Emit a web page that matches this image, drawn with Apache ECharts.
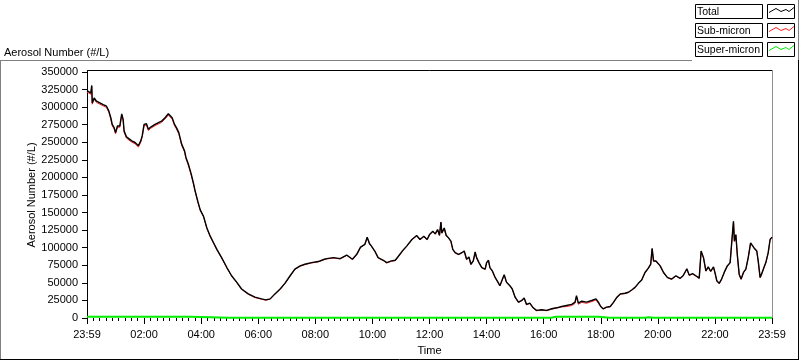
<!DOCTYPE html>
<html>
<head>
<meta charset="utf-8">
<script src="https://cdn.jsdelivr.net/npm/echarts@6/dist/echarts.min.js"></script>
<style>
    html, body { margin: 0; padding: 0; background: #fff; }
    #chart_aerosol { width: 800px; height: 361px; }
</style>
</head>
<body>
<div id="chart_aerosol"></div>
<script>
// minutes after 23:59 (start of the record)
var times = [0,4,8,10,11,15,20,27,34,41,
    46,50,53,57,60,64,69,73,76,78,
    83,87,94,101,108,113,116,120,125,129,
    134,143,150,157,164,171,175,179,184,188,
    193,199,205,208,213,219,224,227,233,238,
    245,252,259,266,273,283,294,304,315,325,
    339,353,367,376,385,395,406,416,427,437,
    448,458,472,486,499,504,518,532,546,558,
    567,575,584,589,594,598,605,612,623,630,
    640,648,655,664,672,683,693,700,708,715,
    720,727,732,737,741,744,746,751,755,760,
    765,769,774,781,788,793,798,803,807,812,
    816,819,824,830,837,840,844,847,852,858,
    863,868,872,877,882,889,894,900,907,914,
    919,924,931,938,945,956,966,977,987,998,
    1008,1019,1026,1029,1033,1040,1050,1061,1070,1075,
    1080,1085,1092,1100,1107,1114,1121,1131,1138,1145,
    1152,1159,1166,1173,1180,1185,1188,1191,1196,1205,
    1212,1220,1229,1238,1247,1253,1261,1266,1273,1280,
    1287,1291,1296,1301,1306,1311,1317,1320,1324,1329,
    1334,1341,1346,1352,1355,1359,1361,1364,1367,1371,
    1375,1380,1385,1390,1395,1399,1402,1408,1411,1415,
    1418,1423,1427,1432,1436,1440];

var totalVals = [323400,324800,320100,330900,306000,313000,308400,306000,303600,301300,
    294300,284900,275500,270800,263800,273200,273200,290500,282500,266100,
    257700,255800,252000,249700,245000,252000,259100,275500,276400,268500,
    271700,275500,277800,280200,284900,290500,291900,284900,275500,270800,
    263800,247400,238000,228500,219200,205100,191000,181600,165700,153900,
    144600,128100,116400,107000,97600,85900,71800,60100,50700,41300,
    34300,29600,27200,25800,27200,34300,41300,49300,60100,69500,
    74100,76500,78800,80300,83600,84500,85900,84500,89600,83600,
    90600,100900,104700,115000,105600,102300,95300,85900,82100,78800,
    81200,82100,88200,96200,102300,111700,117300,111700,116400,111700,
    118700,123400,119700,125800,117800,136600,121100,128100,117800,114000,
    109400,97600,92900,90600,92900,95300,83600,86800,76500,81200,
    93900,85900,78800,71800,69500,78800,82100,71800,67100,57700,
    52100,46000,53000,61500,50700,46000,41300,29600,22500,24900,
    28600,19300,21100,14500,10800,11700,10800,13100,14500,16400,
    17800,19300,22500,31900,21100,23900,22500,24900,27200,22500,
    16400,13100,15500,16400,22500,29600,34300,35200,36600,39900,
    43600,49300,54000,64800,70900,76500,99000,81200,81200,74100,
    64800,57700,55400,60100,56500,60100,70000,61000,63000,60100,
    56800,95300,85900,67100,72700,66500,72700,64800,53000,49300,
    55400,67100,74100,78800,104700,137500,109400,118700,90600,62400,
    55400,64800,69500,85900,107000,109400,100000,95300,81200,57700,
    62400,71800,78800,92900,111700,115000];

var subVals = [321600,323000,318300,329100,304200,311200,306600,304200,301800,299500,
    292500,283100,273700,269000,262000,271400,271400,288700,280700,264300,
    255900,254000,250200,247900,243200,250200,257300,273700,274600,266700,
    269900,273700,276000,278400,283100,288700,290100,283100,273700,269000,
    262000,245600,236200,226700,217400,203300,190500,181100,165200,153400,
    144100,127600,115900,106500,97100,85400,71300,59600,50200,40800,
    33800,29100,26700,25300,26700,33800,40800,48800,59600,69000,
    73600,76000,78300,79800,83100,84000,85400,84000,89100,83100,
    90100,100400,104200,114500,105100,101800,94800,85400,81600,78300,
    80700,81600,87700,95700,101800,111200,116800,111200,115900,111200,
    118200,122900,119200,125300,117300,136100,120600,127600,117300,113500,
    108900,97100,92400,90100,92400,94800,83100,86300,76000,80700,
    93400,85400,78300,71300,69000,78300,81600,71300,66600,57200,
    51600,45500,52500,61000,50200,45500,40800,29100,22000,24400,
    28100,18800,20600,14000,10300,11200,10300,12600,14000,15900,
    16200,17700,20900,30300,19500,22300,20900,23300,25600,20900,
    15900,12600,15000,15900,22000,29100,33800,34700,36100,39400,
    43100,48800,53500,64300,70400,75800,98000,80600,80700,73600,
    64300,57200,54900,59600,56000,59600,69500,60500,62500,59600,
    56300,94600,85400,66600,72200,66000,72200,64300,52500,48800,
    54900,66600,73600,78300,104200,137000,108900,118200,90100,61900,
    54900,64300,69000,85400,106500,108900,99500,94800,80700,57200,
    61900,71300,78300,92400,111200,114500];

var superTimes = [0,20,34,36,38,60,100,150,200,218,
    222,300,400,500,600,700,800,900,960,976,
    980,985,1000,1040,1075,1078,1100,1130,1132,1134,
    1160,1162,1175,1180,1183,1186,1190,1192,1200,1260,
    1292,1294,1296,1380,1440];
var superVals = [1800,1800,1800,2600,1800,1800,1800,1800,1800,1900,
    500,500,450,450,450,450,400,400,400,450,
    1100,1700,1700,1700,1700,500,450,450,1000,450,
    450,900,450,1000,1500,800,1300,500,450,400,
    400,1300,400,400,400];

var seriesNames = ['Total', 'Sub-micron', 'Super-micron'];
var seriesColors = ['#000000', '#ff2020', '#00ee00'];
var yTitle = 'Aerosol Number (#/L)';
var xTitle = 'Time';

var fontName = '"Liberation Sans", Arial, sans-serif';

function toPairs(xs, ys) {
    var arr = [];
    for (var i = 0; i < xs.length; i++) {
        arr.push([xs[i], ys[i]]);
    }
    return arr;
}

function timeLabel(v) {
    if (v === 0 || v === 1440) { return '23:59'; }
    var h = v / 60;
    return (h < 10 ? '0' + h : '' + h) + ':00';
}

/*legend boxes, drawn like the instrument panel*/
function legendGraphic() {
    var items = [];
    var zig = [[1, 5], [8, 1], [13, 4], [18, 2], [21, 4], [26, 0]];
    for (var i = 0; i < seriesNames.length; i++) {
        var top = 4.5 + i * 19;
        items.push({
            type: 'rect',
            shape: { x: 695.5, y: top, width: 67, height: 14 },
            style: { fill: '#fff', stroke: '#000', lineWidth: 1 }
        });
        items.push({
            type: 'rect',
            shape: { x: 767.5, y: top, width: 27, height: 14 },
            style: { fill: '#fff', stroke: '#000', lineWidth: 1 }
        });
        items.push({
            type: 'text',
            x: 697, y: top + 7.5,
            style: { text: seriesNames[i], font: '10.5px ' + fontName, fill: '#000', align: 'left', verticalAlign: 'middle' }
        });
        var pts = [];
        for (var j = 0; j < zig.length; j++) {
            pts.push([768 + zig[j][0], top + 3 + zig[j][1]]);
        }
        items.push({
            type: 'polyline',
            shape: { points: pts },
            style: { stroke: seriesColors[i], lineWidth: 1, fill: null }
        });
    }
    return items;
}

function frameGraphic() {
    return [
        { type: 'line', shape: { x1: 0, y1: 60.5, x2: 692, y2: 60.5 }, style: { stroke: '#808080', lineWidth: 1 } },
        { type: 'line', shape: { x1: 0.5, y1: 60, x2: 0.5, y2: 359 }, style: { stroke: '#808080', lineWidth: 1 } },
        { type: 'line', shape: { x1: 0, y1: 359.5, x2: 799, y2: 359.5 }, style: { stroke: '#000', lineWidth: 1 } },
        { type: 'line', shape: { x1: 798.5, y1: 60, x2: 798.5, y2: 360 }, style: { stroke: '#000', lineWidth: 1 } },
        { type: 'line', shape: { x1: 798.5, y1: 0, x2: 798.5, y2: 60 }, style: { stroke: '#808080', lineWidth: 1 } },
        // plot area border: black top, gray right
        { type: 'line', shape: { x1: 87, y1: 70.5, x2: 772.5, y2: 70.5 }, style: { stroke: '#000', lineWidth: 1 } },
        { type: 'line', shape: { x1: 772.5, y1: 70, x2: 772.5, y2: 322 }, style: { stroke: '#909090', lineWidth: 1 } },
        { type: 'line', shape: { x1: 87.5, y1: 70, x2: 87.5, y2: 73 }, style: { stroke: '#000', lineWidth: 1 } },
        {
            type: 'text', x: 4, y: 52.5,
            style: { text: yTitle, font: '11px ' + fontName, fill: '#000', align: 'left', verticalAlign: 'middle' }
        }
    ];
}

var chart_aerosol = null;
function initChart() {
    chart_aerosol = echarts.init(document.getElementById('chart_aerosol'), null, { renderer: 'canvas' });

    var option = {
        animation: false,
        backgroundColor: '#fff',
        grid: {
            left: 87,
            right: 28,
            top: 72,
            bottom: 40
        },
        xAxis: {
            type: 'value',
            min: 0,
            max: 1440,
            interval: 120,
            offset: 2,
            name: xTitle,
            nameLocation: 'middle',
            nameGap: 25,
            nameMoveOverlap: false,
            nameTextStyle: { color: '#000', fontSize: 11, fontFamily: fontName },
            axisLine: { show: false },
            axisTick: { show: true, length: 6, lineStyle: { color: '#000', width: 1 } },
            minorTick: { show: true, splitNumber: 9, length: 3, lineStyle: { color: '#000', width: 1 } },
            splitLine: { show: false },
            axisLabel: {
                color: '#000',
                fontSize: 11,
                fontFamily: fontName,
                margin: 9,
                formatter: timeLabel
            }
        },
        yAxis: {
            type: 'value',
            min: 0,
            max: 350000,
            interval: 25000,
            name: yTitle,
            nameLocation: 'middle',
            nameGap: 50,
            nameMoveOverlap: false,
            nameTextStyle: { color: '#000', fontSize: 11, fontFamily: fontName },
            axisLine: { show: true, lineStyle: { color: '#000', width: 1 } },
            axisTick: { show: true, length: 5, lineStyle: { color: '#000', width: 1 } },
            splitLine: { show: false },
            axisLabel: {
                color: '#000',
                fontSize: 11,
                fontFamily: fontName,
                margin: 9,
                formatter: function (v) { return String(v); }
            }
        },
        graphic: frameGraphic().concat(legendGraphic()),
        series: [
            {
                name: seriesNames[2],
                type: 'line',
                showSymbol: false,
                lineStyle: { color: seriesColors[2], width: 2 },
                itemStyle: { color: seriesColors[2] },
                data: toPairs(superTimes, superVals)
            },
            {
                name: seriesNames[1],
                type: 'line',
                showSymbol: false,
                lineStyle: { color: seriesColors[1], width: 1 },
                itemStyle: { color: seriesColors[1] },
                data: toPairs(times, subVals)
            },
            {
                name: seriesNames[0],
                type: 'line',
                showSymbol: false,
                lineStyle: { color: seriesColors[0], width: 1.4 },
                itemStyle: { color: seriesColors[0] },
                data: toPairs(times, totalVals)
            }
        ]
    };
    chart_aerosol.setOption(option);
}

initChart();
</script>
</body>
</html>
